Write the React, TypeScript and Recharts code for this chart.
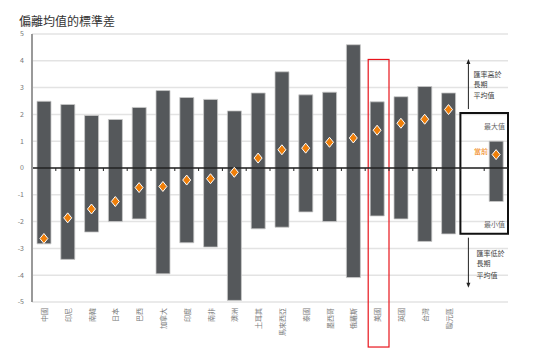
import React from 'react';
import {
    ComposedChart,
    Bar,
    Scatter,
    XAxis,
    YAxis,
    CartesianGrid,
    ReferenceLine,
    ReferenceArea,
} from 'recharts';

// 18 economies, then two spare slots used by the legend key on the right
const categories = ['中國', '印尼', '南韓', '日本', '巴西', '加拿大', '印度', '南非', '澳洲', '土耳其', '馬來西亞', '泰國', '墨西哥', '俄羅斯', '美國', '英國', '台灣', '歐元區', ' ', '  '];
const maxValues = [2.49, 2.37, 1.96, 1.81, 2.26, 2.89, 2.63, 2.56, 2.13, 2.8, 3.59, 2.73, 2.83, 4.6, 2.47, 2.66, 3.04, 2.8, null, 1.0];
const minValues = [-2.83, -3.41, -2.39, -2.0, -1.9, -3.95, -2.79, -2.95, -4.94, -2.27, -2.21, -1.64, -2.0, -4.09, -1.79, -1.9, -2.74, -2.46, null, -1.25];
const currentValues = [-2.63, -1.86, -1.53, -1.25, -0.73, -0.69, -0.45, -0.4, -0.16, 0.37, 0.68, 0.74, 0.96, 1.12, 1.41, 1.67, 1.82, 2.18, null, 0.5];
const yTicks = [-5, -4, -3, -2, -1, 0, 1, 2, 3, 4, 5];

const data = categories.map((name, i) => ({
    name,
    range: maxValues[i] == null ? null : [minValues[i], maxValues[i]],
    current: currentValues[i],
}));

const W = 538;
const H = 358;
const TOP = 34;
const BOTTOM_MARGIN = 6;
const X_AXIS_H = 50;
const PLOT_BOTTOM = H - BOTTOM_MARGIN - X_AXIS_H;
const ZERO_Y = (TOP + PLOT_BOTTOM) / 2;
const BAND = (W - 30 - 32) / categories.length;

const FONT = '"Noto Sans CJK TC", "Noto Sans", sans-serif';
const ORANGE = '#f07f09';

function CategoryTick({ x, y, payload, index }: any) {
    const label = String(payload.value).trim();
    return (
        <g>
            {index < categories.length - 1 && (
                <line x1={x + BAND / 2} x2={x + BAND / 2} y1={ZERO_Y} y2={ZERO_Y + 3} stroke="#222" strokeWidth={1} />
            )}
            {label && (
                <text
                    x={x}
                    y={PLOT_BOTTOM + 6}
                    transform={`rotate(-90, ${x}, ${PLOT_BOTTOM + 6})`}
                    textAnchor="end"
                    dominantBaseline="central"
                    fontSize={7}
                    fill="#777"
                    fontFamily={FONT}
                >
                    {label}
                </text>
            )}
        </g>
    );
}

function Diamond({ cx, cy }: any) {
    if (cx == null || cy == null) return null;
    return (
        <polygon
            points={`${cx},${cy - 5} ${cx + 4},${cy} ${cx},${cy + 5} ${cx - 4},${cy}`}
            fill={ORANGE}
            stroke="#fff"
            strokeWidth={1}
        />
    );
}

function Arrow({ x, y1, y2 }: { x: number; y1: number; y2: number }) {
    const dir = y2 < y1 ? -1 : 1;
    return (
        <g>
            <line x1={x} x2={x} y1={y1} y2={y2 - dir * 4} stroke="#222" strokeWidth={1} />
            <polygon points={`${x},${y2} ${x - 2},${y2 - dir * 5} ${x + 2},${y2 - dir * 5}`} fill="#222" />
        </g>
    );
}

function LegendNotes(props: any) {
    const { x, y, width, height } = props.viewBox;
    const txt = { fontSize: 7, fontFamily: FONT, dominantBaseline: 'central' as const };
    const right = x + width - 3;
    const bottom = y + height;
    return (
        <g>
            <text {...txt} x={right} y={y + 13} textAnchor="end" fill="#666">最大值</text>
            <text {...txt} x={x + width - 20} y={y + 38} textAnchor="end" fill={ORANGE}>當前</text>
            <text {...txt} x={right} y={bottom - 10} textAnchor="end" fill="#666">最小值</text>

            <Arrow x={x + 8} y1={y - 4} y2={y - 54} />
            <text {...txt} x={x + 13} y={y - 39} fill="#444">匯率高於</text>
            <text {...txt} x={x + 13} y={y - 29} fill="#444">長期</text>
            <text {...txt} x={x + 13} y={y - 18} fill="#444">平均值</text>

            <Arrow x={x + 8} y1={bottom + 4} y2={bottom + 54} />
            <text {...txt} x={x + 16} y={bottom + 19} fill="#444">匯率低於</text>
            <text {...txt} x={x + 16} y={bottom + 29} fill="#444">長期</text>
            <text {...txt} x={x + 16} y={bottom + 41} fill="#444">平均值</text>
        </g>
    );
}

function Highlight({ x, y, width, height }: any) {
    return <rect x={x + 3} y={y} width={width - 3} height={height} fill="none" stroke="#e8141c" strokeWidth={1.2} />;
}

export default function App() {
    return (
        <div style={{ position: 'absolute', left: 0, top: 0, width: W, height: H, background: '#fff' }}>
            <div
                style={{
                    position: 'absolute',
                    left: 19,
                    top: 13,
                    fontSize: 12,
                    lineHeight: '16px',
                    color: '#333',
                    fontFamily: FONT,
                }}
            >
                偏離均值的標準差
            </div>
            <ComposedChart
                width={W}
                height={H}
                data={data}
                margin={{ top: TOP, right: 30, bottom: BOTTOM_MARGIN, left: 0 }}
                barCategoryGap={0}
            >
                <CartesianGrid vertical={false} stroke="#e3e3e3" strokeWidth={1.5} />
                <XAxis
                    dataKey="name"
                    height={X_AXIS_H}
                    axisLine={false}
                    tickLine={false}
                    interval={0}
                    tick={<CategoryTick />}
                />
                <YAxis
                    type="number"
                    domain={[-5, 5]}
                    ticks={yTicks}
                    width={32}
                    axisLine={{ stroke: '#999', strokeWidth: 2 }}
                    tickLine={false}
                    tick={{ fontSize: 7, fill: '#777', fontFamily: FONT }}
                    interval={0}
                />
                <Bar
                    dataKey="range"
                    barSize={14}
                    fill="#55585b"
                    stroke="#c9c9c9"
                    strokeWidth={0.8}
                    isAnimationActive={false}
                />
                <ReferenceLine y={0} stroke="#222" strokeWidth={1.5} />
                <ReferenceArea
                    x1="美國"
                    x2="美國"
                    y1={-6.68}
                    y2={4.05}
                    ifOverflow="visible"
                    shape={<Highlight />}
                />
                <ReferenceArea
                    x1=" "
                    x2="  "
                    y1={-2.45}
                    y2={2.05}
                    ifOverflow="visible"
                    fill="none"
                    fillOpacity={0}
                    stroke="#111"
                    strokeWidth={2}
                    label={(p: any) => <LegendNotes {...p} />}
                />
                <Scatter dataKey="current" shape={<Diamond />} isAnimationActive={false} />
            </ComposedChart>
        </div>
    );
}
